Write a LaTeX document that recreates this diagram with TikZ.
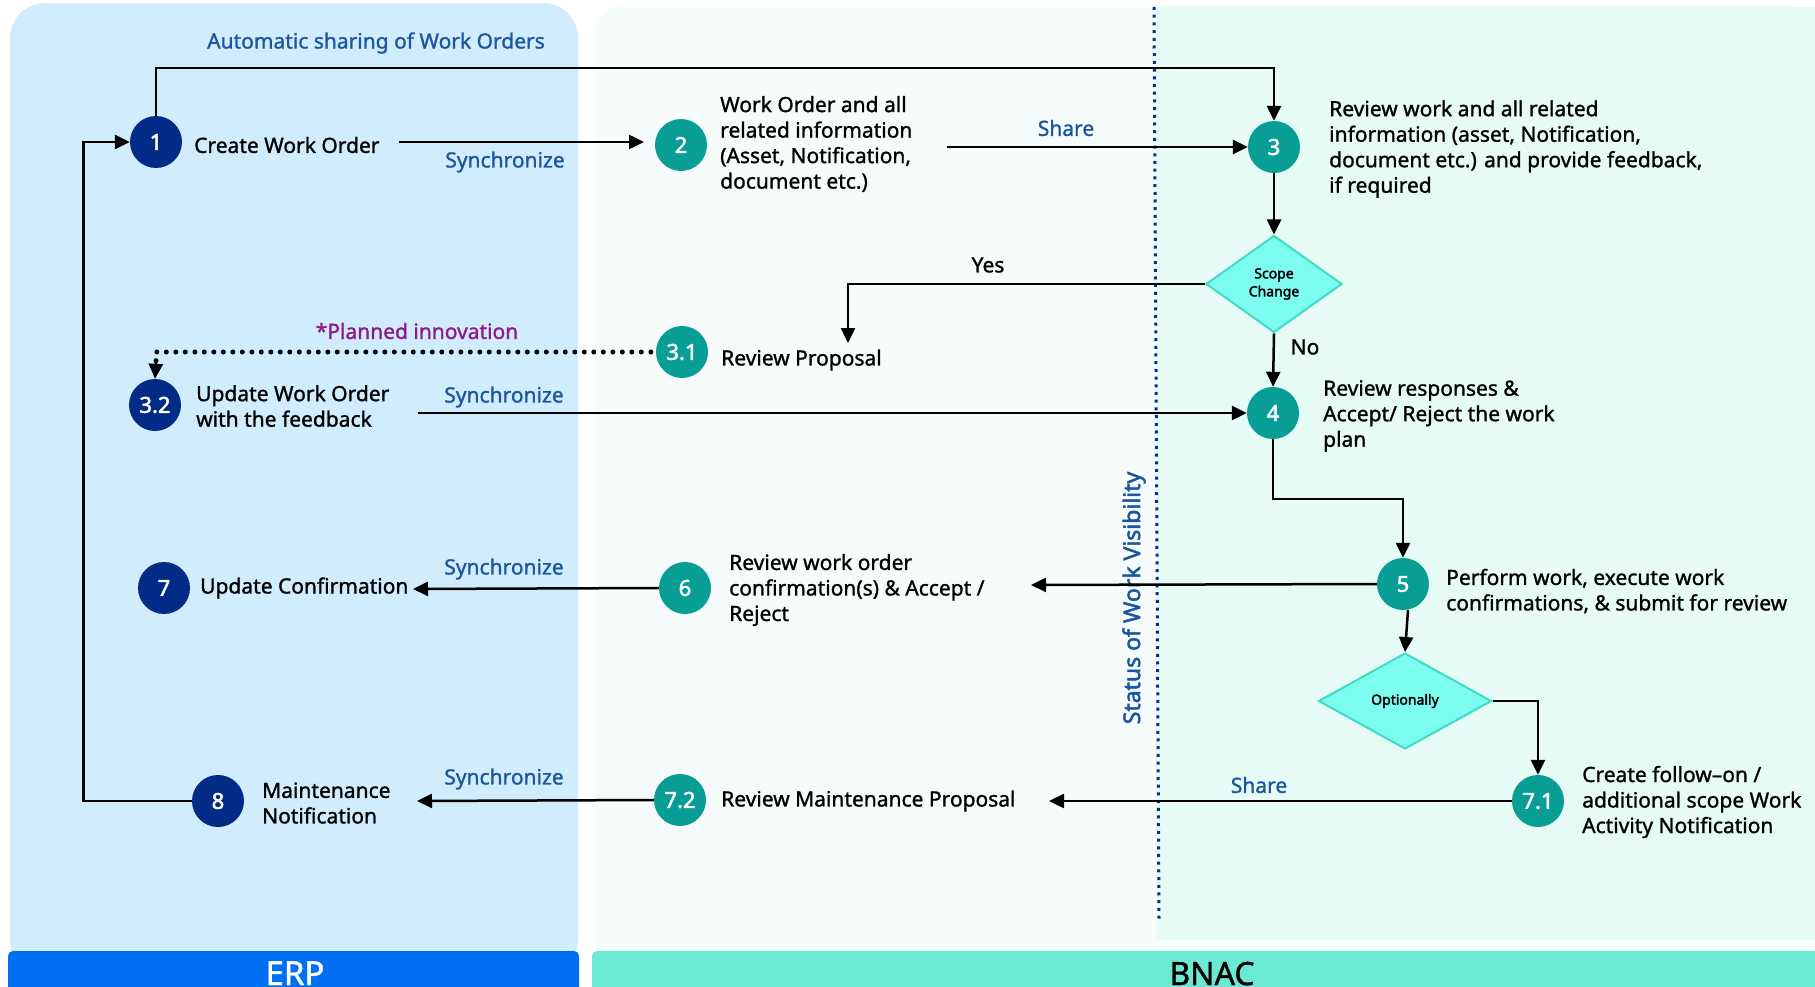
\documentclass[tikz,border=0pt]{standalone}
\usepackage{fontspec}
\setmainfont{Noto Sans}
\newfontfamily\medf{Noto Sans}[FakeBold=1.2]
\newfontfamily\heavyf{Noto Sans}[FakeBold=2.2]
\usetikzlibrary{arrows.meta,shapes.geometric}
\definecolor{erpbg}{HTML}{D0ECFD}
\definecolor{erpbar}{HTML}{0070F2}
\definecolor{midbg}{HTML}{F6FCFC}
\definecolor{bnacbg}{HTML}{E6FBF6}
\definecolor{bnacbar}{HTML}{6BE9D4}
\definecolor{navy}{HTML}{012B87}
\definecolor{tealc}{HTML}{089E96}
\definecolor{dfill}{HTML}{7DFDF0}
\definecolor{dline}{HTML}{3EDCC4}
\definecolor{lblue}{HTML}{1D56A0}
\definecolor{purp}{HTML}{8E1A8A}
\definecolor{vline}{HTML}{0B2C8C}
\begin{document}
\begin{tikzpicture}[x=1pt,y=-1pt,
  stepnum/.style={circle, minimum size=52pt, inner sep=0pt, text=white, font=\heavyf\fontsize{22}{22}\selectfont},
  navystep/.style={stepnum, fill=navy},
  tealstep/.style={stepnum, fill=tealc},
  txt/.style={font=\medf\fontsize{21}{25.5}\selectfont, inner sep=0pt, align=left, anchor=west},
  lbl/.style={font=\medf\fontsize{21}{25.5}\selectfont, text=lblue, inner sep=0pt},
  plain/.style={font=\medf\fontsize{21}{25.5}\selectfont, inner sep=0pt},
  arr/.style={line width=2.5pt, -{Triangle[length=15pt,width=14pt]}},
  decision/.style={diamond, fill=dfill, draw=dline, line width=2pt, inner sep=0pt, font=\heavyf\fontsize{14}{18}\selectfont, align=center},
]
\useasboundingbox (0,0) rectangle (1815,987);
% lanes
\fill[erpbg, rounded corners=35pt] (10,3) rectangle (578,975);
\fill[midbg, rounded corners=30pt] (595,5) rectangle (1815,975);
\fill[bnacbg] (1156,7) rectangle (1815,940);
\fill[erpbar] (8,987) [rounded corners=5pt] -- (8,951) -- (579,951) [sharp corners] -- (579,987) -- cycle;
\fill[bnacbar] (592,987) [rounded corners=5pt] -- (592,951) [sharp corners] -- (1815,951) -- (1815,987) -- cycle;
\node[font=\medf\fontsize{33}{33}\selectfont, text=white, anchor=base] (erp) at (295,985) {ERP};
\node[font=\medf\fontsize{32}{32}\selectfont, text=black, anchor=base] (bnac) at (1212,985) {BNAC};
% visibility line
\draw[vline, line width=3pt, dash pattern=on 3pt off 4.7pt] (1154,7) -- (1159,920);
\node[font=\heavyf\fontsize{23}{23}\selectfont, text=lblue, rotate=90] (vis) at (1134,598) {Status of Work Visibility};

% steps
\node[navystep] (c1) at (156,142) {1};
\node[tealstep] (c2) at (681,145) {2};
\node[tealstep] (c3) at (1274,147) {3};
\node[tealstep] (c31) at (682,352) {3.1};
\node[navystep] (c32) at (155,405) {3.2};
\node[tealstep] (c4) at (1273,413) {4};
\node[tealstep] (c5) at (1403,584) {5};
\node[tealstep] (c6) at (685,588) {6};
\node[navystep] (c7) at (164,588) {7};
\node[tealstep] (c71) at (1538,801) {7.1};
\node[tealstep] (c72) at (680,800) {7.2};
\node[navystep] (c8) at (218,801) {8};

\node[decision, minimum width=136pt, minimum height=97pt] (dscope) at (1274,284) {Scope\\Change};
\node[decision, minimum width=173pt, minimum height=96pt] (dopt) at (1405,701) {Optionally};

% step texts
\node[txt] (t1) at (194,145) {Create Work Order};
\node[txt] (t2) at (720,144) {Work Order and all\\related information\\(Asset, Notification,\\document etc.)};
\node[txt] (t3) at (1329,149) {Review work and all related\\information (asset, Notification,\\document etc.) and provide feedback,\\if required};
\node[txt] (t31) at (721,360) {Review Proposal};
\node[txt] (t32) at (196,406) {Update Work Order\\with the feedback};
\node[txt] (t4) at (1323,416) {Review responses \&\\Accept/ Reject the work\\plan};
\node[txt] (t5) at (1446,591) {Perform work, execute work\\confirmations, \& submit for review};
\node[txt] (t6) at (729,590) {Review work order\\confirmation(s) \& Accept /\\Reject};
\node[txt] (t7) at (200,588) {Update Confirmation};
\node[txt] (t71) at (1582,802) {Create follow–on /\\additional scope Work\\Activity Notification};
\node[txt] (t72) at (721,801) {Review Maintenance Proposal};
\node[txt] (t8) at (262,803) {Maintenance\\Notification};

% labels
\node[lbl] (lauto) at (376,43) {Automatic sharing of Work Orders};
\node[lbl] (ls1) at (505,162) {Synchronize};
\node[lbl] (ls2) at (504,397) {Synchronize};
\node[lbl] (ls3) at (504,569) {Synchronize};
\node[lbl] (ls4) at (504,779) {Synchronize};
\node[lbl] (lsh1) at (1066,128) {Share};
\node[lbl] (lsh2) at (1259,785) {Share};
\node[plain] (lyes) at (988,265) {Yes};
\node[plain] (lno) at (1305,347) {No};
\node[plain, text=purp] (lplan) at (417,331) {*Planned innovation};

% free ends
\coordinate (ctop) at (700,68);
\coordinate (a12) at (399,142);
\coordinate (a12e) at (644,142);
\coordinate (a23) at (947,147);
\coordinate (yesEnd) at (848,343);
\coordinate (dotEnd) at (156,361);
\coordinate (a324) at (418,413);
\coordinate (c45) at (1340,499);
\coordinate (a56) at (1031,585);
\coordinate (a67) at (413,589);
\coordinate (a717) at (1049,801);
\coordinate (a728) at (417,801);
\coordinate (loopc) at (83.5,470);

% connectors
\draw[arr] (c1.north) |- (ctop) -| (c3.north);
\draw[arr] (a12) -- (a12e);
\draw[arr] (a23) -- (c3.west);
\draw[arr] (c3.south) -- (dscope.north);
\draw[arr] (dscope.west) -| (yesEnd);
\draw[arr] (dscope.south) -- (c4.north);
\draw[line width=5pt, line cap=round, dash pattern=on 0pt off 9.5pt] ([xshift=-5pt]c31.west) -| (dotEnd);
\draw[arr] (dotEnd) -- (c32.north);
\draw[arr] (a324) -- (c4.west);
\draw[arr] (c4.south) |- (c45) -| (c5.north);
\draw[arr] (c5.west) -- (a56);
\draw[arr] ([xshift=5pt]c5.south) -- (dopt.north);
\draw[arr] (dopt.east) -| (c71.north);
\draw[arr] (c71.west) -- (a717);
\draw[arr] (c6.west) -- (a67);
\draw[arr] (c72.west) -- (a728);
\draw[arr] (c8.west) -| (loopc) |- (c1.west);
\end{tikzpicture}
\end{document}
